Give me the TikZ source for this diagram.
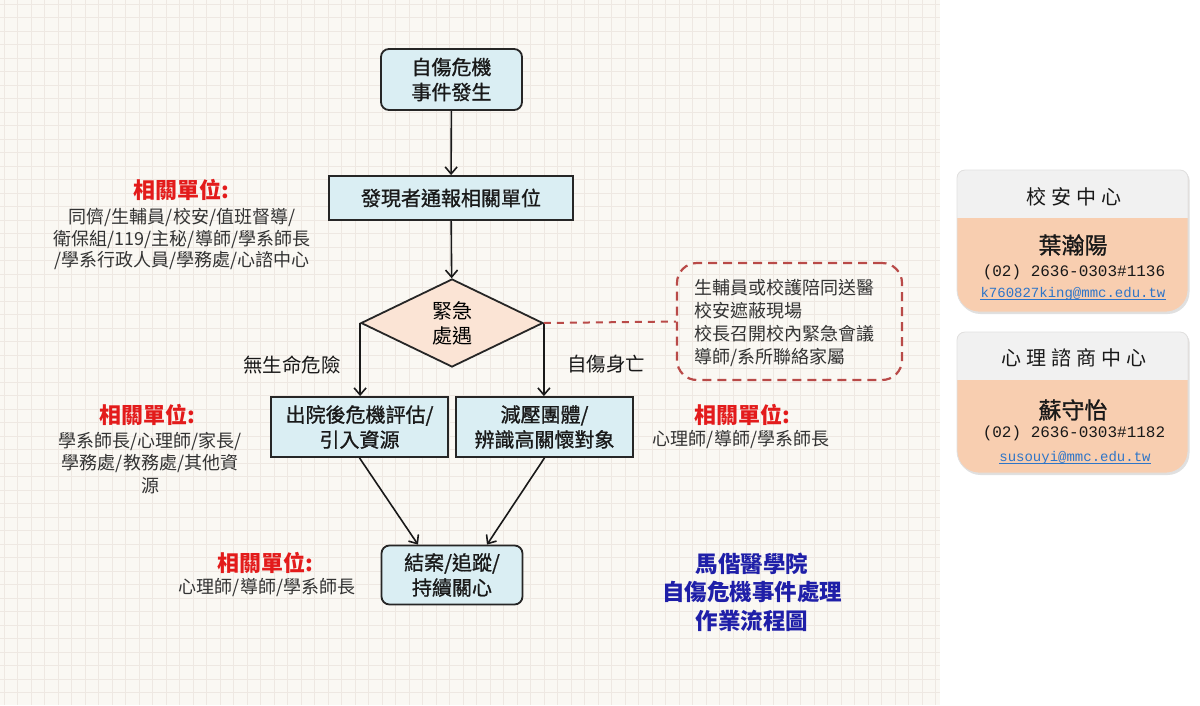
\documentclass[tikz,border=0pt]{standalone}
\usepackage{fontspec}
\setmainfont{Liberation Sans}
\newfontfamily\cjk{Noto Sans CJK TC}
\newfontfamily\cjkbox[FakeBold=1]{Noto Sans CJK TC}
\newfontfamily\cjksp[LetterSpace=25]{Noto Sans CJK TC}
\newfontfamily\monof{Liberation Mono}
\usetikzlibrary{shapes.geometric,arrows.meta}
\definecolor{bgc}{HTML}{FAF8F3}
\definecolor{gridc}{HTML}{EEE8E2}
\definecolor{boxblue}{HTML}{DAEEF3}
\definecolor{dpeach}{HTML}{FBE4D5}
\definecolor{lblred}{HTML}{E31B1B}
\definecolor{dashred}{HTML}{B94A48}
\definecolor{titleblue}{HTML}{1F1FA8}
\definecolor{txtgray}{HTML}{333333}
\definecolor{cardgray}{HTML}{F1F1F1}
\definecolor{cardpeach}{HTML}{F8CEB0}
\definecolor{linkblue}{HTML}{2E75C8}
\newcommand\cardshape[2]{(957,#1+70) [rounded corners=8] -- (957,#1) -- (1188,#1) -- (1188,#1+70) [rounded corners=22] -- (1188,#2) -- (957,#2) -- cycle}
\begin{document}
\begin{tikzpicture}[x=1pt,y=-1pt,
  flowbox/.style={draw=black!85, line width=1.8pt, fill=boxblue, inner sep=0pt,
    align=center, font=\cjkbox\fontsize{20}{25}\selectfont, text=black!90},
  flowrnd/.style={flowbox, rounded corners=8},
  decide/.style={diamond, draw=black!85, line width=1.8pt, fill=dpeach, inner sep=0pt,
    minimum width=182pt, minimum height=88pt, align=center,
    font=\cjk\fontsize{20}{25}\selectfont},
  arr/.style={draw=black!90, line width=1.6pt, -{Straight Barb[length=7pt,width=12pt,line width=1.6pt]}},
  redlbl/.style={font=\cjk\bfseries\fontsize{22}{26}\selectfont, text=lblred, inner sep=0pt},
  graylbl/.style={font=\cjk\fontsize{18}{21.5}\selectfont, text=txtgray, align=center, inner sep=0pt},
  edgelbl/.style={font=\cjk\fontsize{19.5}{24}\selectfont, text=black!90, inner sep=0pt},
  bluetitle/.style={font=\cjk\bfseries\fontsize{22.5}{28.5}\selectfont, text=titleblue, align=center, inner sep=0pt},
  cardhead/.style={font=\cjksp\fontsize{20}{24}\selectfont, text=black!90, inner sep=0pt},
  cardname/.style={font=\cjkbox\fontsize{23}{26}\selectfont, text=black!90, inner sep=0pt},
  cardphone/.style={font=\monof\fontsize{16}{18}\selectfont, text=black!90, inner sep=0pt},
  cardmail/.style={font=\monof\fontsize{14}{16}\selectfont, text=linkblue, inner sep=0pt}
]
\useasboundingbox (0,0) rectangle (1200,705);
\fill[white] (0,0) rectangle (1200,705);
\fill[bgc] (0,0) rectangle (940,705);
\foreach \i in {0,...,69} \draw[gridc, line width=0.7pt] (\i*13.5+4,0) -- (\i*13.5+4,705);
\foreach \j in {0,...,52} \draw[gridc, line width=0.7pt] (0,\j*13.5+4) -- (940,\j*13.5+4);

% flow nodes
\node[flowrnd, minimum width=141pt, minimum height=61pt] (start) at (451.5,79.5) {自傷危機\\事件發生};
\node[flowbox, minimum width=244pt, minimum height=44pt] (report) at (451,198) {發現者通報相關單位};
\node[decide] (dec) at (452,323) {緊急\\處遇};
\node[flowbox, minimum width=177pt, minimum height=60pt] (eval) at (359.5,427) {出院後危機評估/\\引入資源};
\node[flowbox, minimum width=177pt, minimum height=60pt] (group) at (544.5,427) {減壓團體/\\辨識高關懷對象};
\node[flowrnd, minimum width=141pt, minimum height=59pt] (close) at (452,575) {結案/追蹤/\\持續關心};

% dashed box
\node[draw=dashred, line width=2.2pt, dash pattern=on 9pt off 6pt, rounded corners=20,
  minimum width=225pt, minimum height=117pt] (act) at (789.5,321.5) {};
\node[font=\cjk\fontsize{18}{23}\selectfont, text=txtgray, align=left, inner sep=0pt] (acttxt) at (784,323)
  {生輔員或校護陪同送醫\\校安遮蔽現場\\校長召開校內緊急會議\\導師/系所聯絡家屬};

% connectors
\draw[arr] (start) -- (report);
\draw[arr] (report) -- (dec);
\draw[arr] (dec.west) -- (dec.west |- eval.north);
\draw[arr] (dec.east) -- (dec.east |- group.north);
\draw[arr] (eval.south) -- ([xshift=-34pt]close.north);
\draw[arr] (group.south) -- ([xshift=35pt]close.north);
\draw[dashred, line width=2pt, dash pattern=on 7pt off 6pt] (dec.east) -- (act.west);

% edge labels
\node[edgelbl] (nolife) at (292,365) {無生命危險};
\node[edgelbl] (death) at (606,364) {自傷身亡};

% related units labels
\node[redlbl] (r1) at (181,190) {相關單位:};
\node[graylbl] (g1) at (182,239) {同儕/生輔員/校安/值班督導/\\衛保組/119/主秘/導師/學系師長\\/學系行政人員/學務處/心諮中心};
\node[redlbl] (r2) at (147,415) {相關單位:};
\node[graylbl, font=\cjk\fontsize{18}{22.5}\selectfont] (g2) at (150,463) {學系師長/心理師/家長/\\學務處/教務處/其他資\\源};
\node[redlbl] (r3) at (742,415) {相關單位:};
\node[graylbl] (g3) at (741,440) {心理師/導師/學系師長};
\node[redlbl] (r4) at (265,563) {相關單位:};
\node[graylbl] (g4) at (267,588) {心理師/導師/學系師長};

% title
\node[bluetitle] (title) at (752,592) {馬偕醫學院\\自傷危機事件處理\\作業流程圖};

% cards
\fill[black!12] [xshift=1.5pt, yshift=-2pt] \cardshape{170}{312};
\begin{scope}
  \clip \cardshape{170}{312};
  \fill[cardpeach] (950,160) rectangle (1195,320);
  \fill[cardgray] (950,160) rectangle (1195,218);
\end{scope}
\draw[black!12, line width=0.8pt] \cardshape{170}{312};

\fill[black!12] [xshift=1.5pt, yshift=-2pt] \cardshape{332}{473};
\begin{scope}
  \clip \cardshape{332}{473};
  \fill[cardpeach] (950,325) rectangle (1195,480);
  \fill[cardgray] (950,325) rectangle (1195,380);
\end{scope}
\draw[black!12, line width=0.8pt] \cardshape{332}{473};

\node[cardhead] (h1) at (1074,197) {校安中心};
\node[cardname] (n1) at (1073,245) {葉瀚陽};
\node[cardphone] (p1) at (1074,272) {(02) 2636-0303\#1136};
\node[cardmail] (m1) at (1073,294) {k760827king@mmc.edu.tw};
\draw[linkblue, line width=0.7pt] ([yshift=-2pt]m1.base west) -- ([yshift=-2pt]m1.base east);

\node[cardhead] (h2) at (1074,358) {心理諮商中心};
\node[cardname] (n2) at (1073,410) {蘇守怡};
\node[cardphone] (p2) at (1074,433) {(02) 2636-0303\#1182};
\node[cardmail] (m2) at (1075,458) {susouyi@mmc.edu.tw};
\draw[linkblue, line width=0.7pt] ([yshift=-2pt]m2.base west) -- ([yshift=-2pt]m2.base east);
\end{tikzpicture}
\end{document}
